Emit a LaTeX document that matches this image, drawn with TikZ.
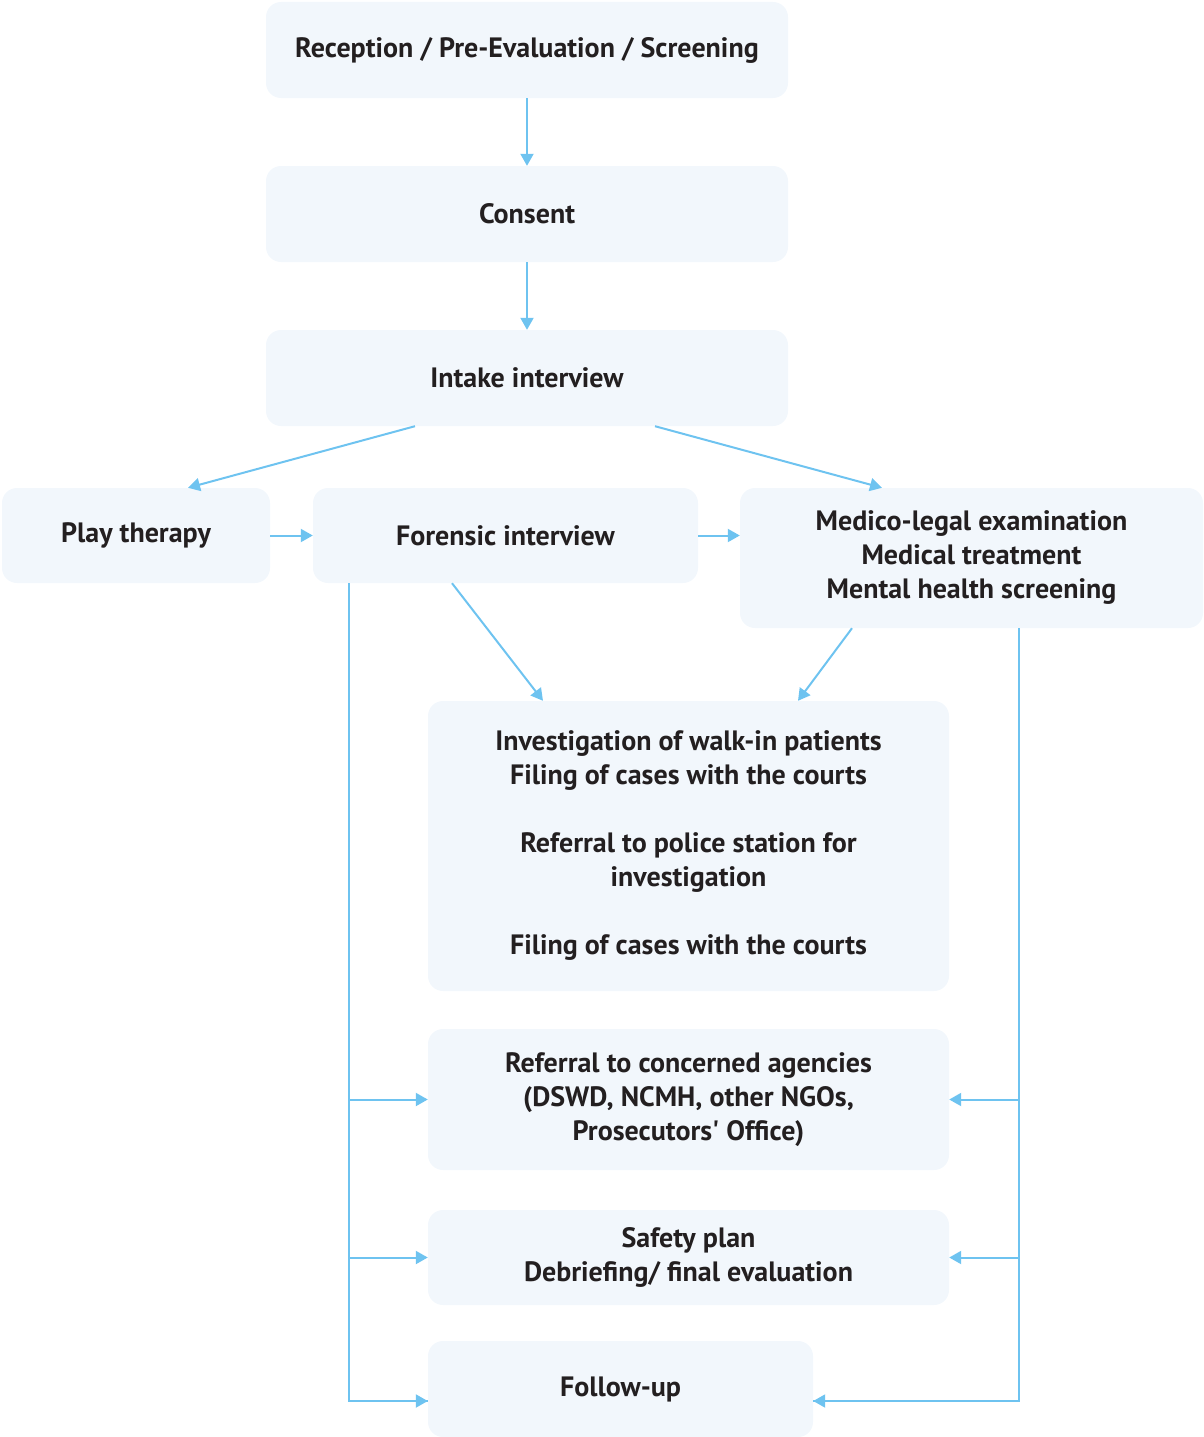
\documentclass[tikz,border=0pt]{standalone}
\usepackage{fontspec}
\setmainfont{PT Sans}
\usetikzlibrary{
  arrows.meta, % Triangle tips
  calc,        % shifted anchors
  positioning
}
\definecolor{boxfill}{RGB}{242,247,252}
\definecolor{flowblue}{RGB}{110,195,240}
\definecolor{inkblack}{RGB}{35,31,32}
\tikzset{
  stage box/.style={
    fill=boxfill,
    rounded corners=15pt,
    align=center,
    inner sep=0pt,
    text=inkblack,
    font=\bfseries\fontsize{28}{34}\selectfont
  },
  flow/.style={
    -{Triangle[length=12pt,width=13pt]},
    line width=2pt,
    draw=flowblue
  },
  bus/.style={
    line width=2pt,
    draw=flowblue
  }
}

\begin{document}
\begin{tikzpicture}[x=1pt, y=-1pt]
  \useasboundingbox (0,0) rectangle (1204,1437);

  % --- top column ---
  \node[stage box, minimum width=522pt, minimum height=96pt] (reception) at (527,50)
    {Reception / Pre-Evaluation / Screening};
  \node[stage box, minimum width=522pt, minimum height=96pt] (consent) at (527,214)
    {Consent};
  \node[stage box, minimum width=522pt, minimum height=96pt] (intake) at (527,378)
    {Intake interview};

  % --- middle row ---
  \node[stage box, minimum width=268pt, minimum height=95pt] (play) at (136,535.5)
    {Play therapy};
  \node[stage box, minimum width=385pt, minimum height=95pt] (forensic) at (505.5,535.5)
    {Forensic interview};
  \node[stage box, minimum width=463pt, minimum height=140pt] (medico) at (971.5,558)
    {Medico-legal examination\\ Medical treatment\\ Mental health screening};

  % --- lower column ---
  \node[stage box, minimum width=521pt, minimum height=290pt] (investigation) at (688.5,846)
    {Investigation of walk-in patients\\ Filing of cases with the courts\\[34pt]
     Referral to police station for\\ investigation\\[34pt]
     Filing of cases with the courts};
  \node[stage box, minimum width=521pt, minimum height=141pt] (referral) at (688.5,1099.5)
    {Referral to concerned agencies\\ (DSWD, NCMH, other NGOs,\\ Prosecutors\textquotesingle\ Office)};
  \node[stage box, minimum width=521pt, minimum height=95pt] (safety) at (688.5,1257.5)
    {Safety plan\\ Debriefing/ final evaluation};
  \node[stage box, minimum width=385pt, minimum height=96pt] (followup) at (620.5,1389)
    {Follow-up};

  % arrows down the top column
  \draw[flow] (reception) -- (consent);
  \draw[flow] (consent) -- (intake);

  % intake to both sides
  \draw[flow] ($(intake.south)+(-112,0)$) -- ($(play.north)+(52,0)$);
  \draw[flow] ($(intake.south)+(128,0)$) -- ($(medico.north)+(-89.5,0)$);

  % across the middle row
  \draw[flow] (play) -- (forensic);
  \draw[flow] (forensic.east) -- (forensic.east -| medico.west);

  % into the investigation box
  \draw[flow] ($(forensic.south)+(-53.5,0)$) -- ($(investigation.north)+(-145.5,0)$);
  \draw[flow] ($(medico.south)+(-119.5,0)$) -- ($(investigation.north)+(109.5,0)$);

  % --- side buses ---
  \coordinate (lbus) at ($(forensic.south west)+(36,0)$);
  \coordinate (rbus) at ($(medico.south west)+(279,0)$);
  \coordinate (fuarrow) at ($(followup.west)+(0,12)$);

  \draw[bus] (lbus) |- (fuarrow);
  \draw[flow] (lbus |- referral.west) -- (referral.west);
  \draw[flow] (lbus |- safety.west) -- (safety.west);
  \draw[flow] (lbus |- fuarrow) -- (fuarrow);

  \draw[bus] (rbus) |- (fuarrow -| followup.east);
  \draw[flow] (rbus |- referral.east) -- (referral.east);
  \draw[flow] (rbus |- safety.east) -- (safety.east);
  \draw[flow] (rbus |- fuarrow) -- (fuarrow -| followup.east);

\end{tikzpicture}
\end{document}
